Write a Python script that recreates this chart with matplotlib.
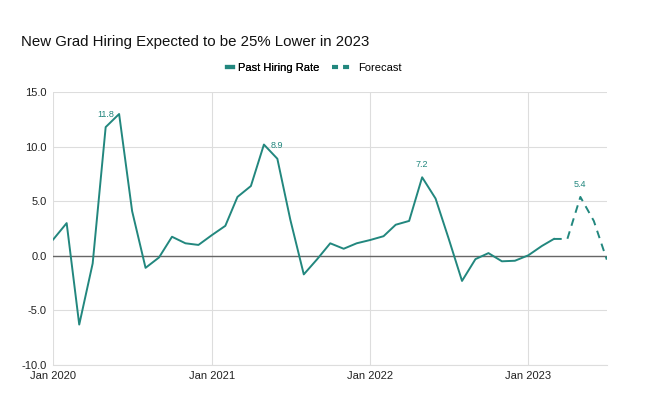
import pandas as pd
import matplotlib.pyplot as plt
import matplotlib.dates as mdates
from matplotlib.lines import Line2D

plt.rcParams['font.family'] = ['Liberation Sans', 'DejaVu Sans']

# monthly hiring rate, Jan 2020 .. Mar 2023
past_months = pd.date_range('2020-01-01', '2023-03-01', freq='MS')
past_values = [1.5, 3.0, -6.3, -0.7, 11.8, 13.0, 4.1, -1.1, -0.15, 1.75, 1.15, 1.0,
               1.9, 2.75, 5.4, 6.4, 10.2, 8.9, 3.3, -1.7, -0.3, 1.15, 0.65, 1.15,
               1.45, 1.8, 2.85, 3.2, 7.2, 5.25, 1.6, -2.3, -0.3, 0.25, -0.5, -0.45,
               0.05, 0.9, 1.55]

# forecast, Mar 2023 .. Jul 2023
fc_months = pd.date_range('2023-03-01', '2023-07-01', freq='MS')
fc_values = [1.55, 1.55, 5.4, 3.2, -0.35]

# labelled peaks
peak_months = pd.to_datetime(['2020-05-01', '2021-06-01', '2022-05-01', '2023-05-01'])
peak_values = [11.8, 8.9, 7.2, 5.4]
peak_labels = ['11.8', '8.9', '7.2', '5.4']

teal = '#22877e'
dash = (0, (4, 3))

fig = plt.figure(figsize=(6.49, 4.19), dpi=100)
ax = fig.add_axes([0.082, 0.129, 0.853, 0.651])

ax.plot(past_months, past_values, color=teal, lw=1.4)
ax.plot(fc_months, fc_values, color=teal, lw=1.4, ls=dash)

for m, v, t in zip(peak_months, peak_values, peak_labels):
    ax.annotate(t, (m, v), xytext=(0, 6), textcoords='offset points',
                ha='center', va='bottom', fontsize=6.5, color=teal)

ax.axhline(0, color='#666666', lw=1.0, zorder=1)

ax.set_ylim(-10, 15)
ax.set_yticks([-10, -5, 0, 5, 10, 15])
ax.set_yticklabels(['-10.0', '-5.0', '0.0', '5.0', '10.0', '15.0'])
ax.set_xlim(pd.Timestamp('2020-01-01'), pd.Timestamp('2023-07-01'))
ax.xaxis.set_major_locator(mdates.YearLocator())
ax.xaxis.set_major_formatter(mdates.DateFormatter('%b %Y'))

ax.grid(True, color='#dddddd', lw=0.8)
ax.set_axisbelow(True)
for s in ['top', 'right', 'left']:
    ax.spines[s].set_visible(False)
ax.spines['bottom'].set_color('#dddddd')
ax.tick_params(length=0, labelsize=8, colors='#222222')
ax.tick_params(axis='y', pad=4.5)
ax.tick_params(axis='x', pad=4.5)

fig.text(0.032, 0.9, 'New Grad Hiring Expected to be 25% Lower in 2023',
         fontsize=10.8, color='#111111', va='center')

# legend: two parts so the solid key stays short like the original
h1 = Line2D([], [], color=teal, lw=3)
h2 = Line2D([], [], color=teal, lw=3, ls=(0, (1.45, 1.2)))
leg1 = fig.legend([h1], ['Past Hiring Rate'], loc='center', bbox_to_anchor=(0.421, 0.838),
                  frameon=False, fontsize=8, handlelength=0.55, handletextpad=0.5)
fig.add_artist(leg1)
fig.legend([h2], ['Forecast'], loc='center', bbox_to_anchor=(0.565, 0.838),
           frameon=False, fontsize=8, handlelength=1.9, handletextpad=0.45)

fig.savefig('out.png', dpi=100)
